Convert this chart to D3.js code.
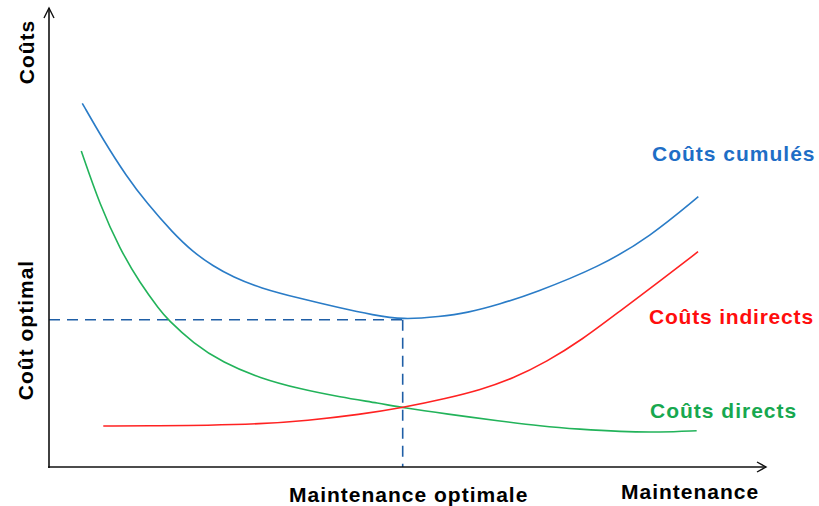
<!DOCTYPE html>
<html>
<head>
<meta charset="utf-8">
<script src="https://cdn.jsdelivr.net/npm/d3@7"></script>
<style>
  html, body { margin: 0; padding: 0; background: #fff; }
  svg { display: block; }
  text { font-family: "Liberation Sans", Arial, sans-serif; font-weight: bold; font-size: 21px; letter-spacing: 1px; }
</style>
</head>
<body>
<script>
// ---- Data (abstract units: maintenance level 0-100, cost 0-100) ----
const cumulX = [4.64, 7.57, 10.84, 13.63, 17.29, 20.08, 22.87, 25.66, 29.43, 35.01, 40.59, 45.19, 49.33, 54.53, 58.26, 62.92, 67.55, 76.85, 83.82, 90.56];
const cumulY = [79.24, 71.24, 63.25, 57.52, 50.98, 46.84, 43.79, 41.39, 38.99, 36.71, 34.64, 33.12, 32.09, 32.75, 33.55, 35.51, 37.84, 43.64, 50.17, 58.89];

const directX = [4.50, 7.11, 9.90, 12.69, 15.48, 16.50, 20.13, 24.27, 29.43, 35.01, 40.59, 46.17, 49.33, 55.47, 62.92, 68.48, 74.06, 79.64, 85.22, 90.33];
const directY = [68.85, 57.04, 47.45, 40.04, 34.16, 32.24, 26.93, 22.72, 19.35, 16.99, 15.25, 13.86, 12.92, 11.55, 10.02, 8.93, 8.21, 7.69, 7.56, 7.91];

const indirectX = [7.57, 15.48, 21.99, 29.43, 35.94, 43.38, 49.33, 55.47, 60.11, 64.76, 69.41, 74.30, 79.64, 85.22, 90.52];
const indirectY = [8.93, 8.98, 9.08, 9.37, 10.09, 11.44, 12.92, 14.97, 16.78, 19.32, 22.94, 27.67, 33.99, 40.52, 46.91];

const optimumX = 49.33;
const optimumY = 32.09;

const seriesNames = ["Coûts cumulés", "Coûts indirects", "Coûts directs"];
const yAxisLabel = "Coûts";
const xAxisLabel = "Maintenance";
const optXLabel = "Maintenance optimale";
const optYLabel = "Coût optimal";

// ---- Layout ----
const W = 819, H = 506;
const svg = d3.select("body").append("svg").attr("width", W).attr("height", H);

const x = d3.scaleLinear().domain([0, 100]).range([49, 766]);
const y = d3.scaleLinear().domain([0, 100]).range([467, 8]);

const toPts = (xs, ys) => xs.map((v, i) => [v, ys[i]]);
const line = d3.line().x(d => x(d[0])).y(d => y(d[1])).curve(d3.curveBasis);

const colors = { cumul: "#2a7cc7", indirect: "#ff2222", direct: "#22b35a" };
const textColors = { cumul: "#1e6ec6", indirect: "#ff0d0d", direct: "#17a84f" };

// Dashed guide lines
const dashColor = "#1f5ea6";
svg.append("line")
  .attr("x1", x(0)).attr("x2", x(optimumX))
  .attr("y1", y(optimumY)).attr("y2", y(optimumY))
  .attr("stroke", dashColor).attr("stroke-width", 1.6).attr("stroke-dasharray", "11,7");
svg.append("line")
  .attr("x1", x(optimumX)).attr("x2", x(optimumX))
  .attr("y1", y(optimumY)).attr("y2", y(0))
  .attr("stroke", dashColor).attr("stroke-width", 1.6).attr("stroke-dasharray", "11,7");

// Curves
svg.append("path").datum(toPts(directX, directY)).attr("d", line)
  .attr("fill", "none").attr("stroke", colors.direct).attr("stroke-width", 1.6);
svg.append("path").datum(toPts(indirectX, indirectY)).attr("d", line)
  .attr("fill", "none").attr("stroke", colors.indirect).attr("stroke-width", 1.6);
svg.append("path").datum(toPts(cumulX, cumulY)).attr("d", line)
  .attr("fill", "none").attr("stroke", colors.cumul).attr("stroke-width", 1.6);

// Axes with arrows
const axisColor = "#111";
svg.append("line").attr("x1", x(0)).attr("x2", x(0)).attr("y1", y(0) + 1).attr("y2", y(100))
  .attr("stroke", axisColor).attr("stroke-width", 1.6);
svg.append("line").attr("x1", x(0) - 1).attr("x2", x(100)).attr("y1", y(0)).attr("y2", y(0))
  .attr("stroke", axisColor).attr("stroke-width", 1.6);
svg.append("path")
  .attr("d", `M${x(0) - 5},${y(100) + 10} L${x(0)},${y(100)} L${x(0) + 5},${y(100) + 10}`)
  .attr("fill", "none").attr("stroke", axisColor).attr("stroke-width", 1.4);
svg.append("path")
  .attr("d", `M${x(100) - 9},${y(0) - 5} L${x(100)},${y(0)} L${x(100) - 9},${y(0) + 5}`)
  .attr("fill", "none").attr("stroke", axisColor).attr("stroke-width", 1.4);

// Labels
svg.append("text").attr("transform", "translate(34,52) rotate(-90)")
  .attr("text-anchor", "middle").attr("fill", "#000").text(yAxisLabel);
svg.append("text").attr("transform", "translate(33,330) rotate(-90)")
  .attr("text-anchor", "middle").attr("fill", "#000").text(optYLabel);
svg.append("text").attr("x", 289).attr("y", 502).attr("fill", "#000").text(optXLabel);
svg.append("text").attr("x", 621).attr("y", 499).attr("fill", "#000").text(xAxisLabel);

svg.append("text").attr("x", 652).attr("y", 161).attr("fill", textColors.cumul).text(seriesNames[0]);
svg.append("text").attr("x", 649).attr("y", 324).attr("fill", textColors.indirect)
  .style("letter-spacing", "0.8px").text(seriesNames[1]);
svg.append("text").attr("x", 650).attr("y", 418).attr("fill", textColors.direct).text(seriesNames[2]);
</script>
</body>
</html>
